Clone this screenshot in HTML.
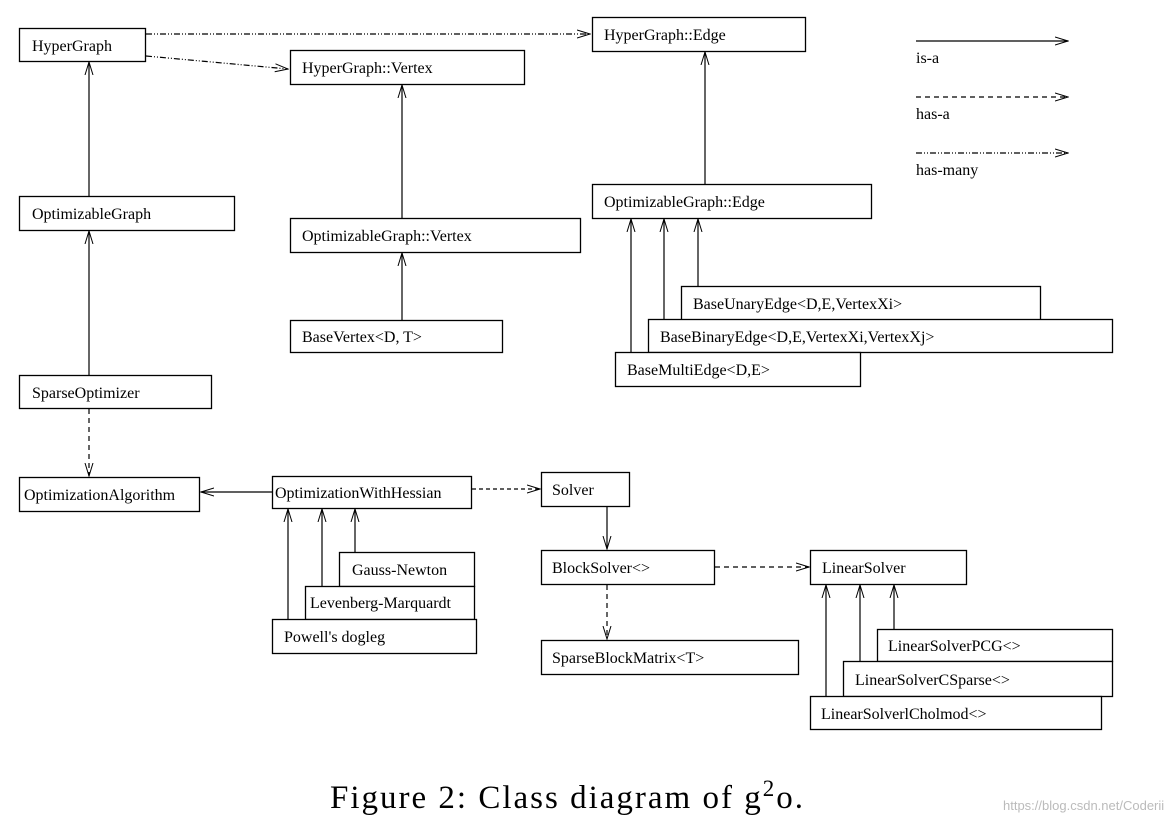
<!DOCTYPE html>
<html><head><meta charset="utf-8"><style>
html,body{margin:0;padding:0;background:#fff;}
svg{display:block;}
text{font-family:"Liberation Serif",serif;font-size:16px;fill:#000;}
</style></head><body>
<svg width="1174" height="826" viewBox="0 0 1174 826" xmlns="http://www.w3.org/2000/svg">
<defs>
<marker id="a" markerWidth="14" markerHeight="10" refX="13" refY="5" orient="auto" markerUnits="userSpaceOnUse">
<path d="M0,1 L13,5 L0,9" fill="none" stroke="#000" stroke-width="1"/>
</marker>
</defs>
<g fill="#fff" stroke="#000" stroke-width="1.3">
<rect x="19.5" y="28.5" width="126" height="33"/>
<rect x="592.5" y="17.5" width="213" height="34"/>
<rect x="290.5" y="50.5" width="234" height="34"/>
<rect x="19.5" y="196.5" width="215" height="34"/>
<rect x="290.5" y="218.5" width="290" height="34"/>
<rect x="592.5" y="184.5" width="279" height="34"/>
<rect x="290.5" y="320.5" width="212" height="32"/>
<rect x="681.5" y="286.5" width="359" height="34"/>
<rect x="648.5" y="319.5" width="464" height="33"/>
<rect x="615.5" y="352.5" width="245" height="34"/>
<rect x="19.5" y="375.5" width="192" height="33"/>
<rect x="19.5" y="477.5" width="180" height="34"/>
<rect x="272.5" y="476.5" width="199" height="32"/>
<rect x="541.5" y="472.5" width="88" height="34"/>
<rect x="541.5" y="550.5" width="173" height="34"/>
<rect x="541.5" y="640.5" width="257" height="34"/>
<rect x="810.5" y="550.5" width="156" height="34"/>
<rect x="339.5" y="552.5" width="135" height="34"/>
<rect x="305.5" y="586.5" width="169" height="33"/>
<rect x="272.5" y="619.5" width="204" height="34"/>
<rect x="877.5" y="629.5" width="235" height="32"/>
<rect x="843.5" y="661.5" width="269" height="35"/>
<rect x="810.5" y="696.5" width="291" height="33"/>
</g>
<g fill="none" stroke="#000" stroke-width="1.2">
<path d="M146,34 L590,34" stroke-dasharray="6,2,1,2,1,2" marker-end="url(#a)"/>
<path d="M146,56 L288,69" stroke-dasharray="6,2,1,2,1,2" marker-end="url(#a)"/>
<path d="M89,196 L89,62" marker-end="url(#a)"/>
<path d="M89,375 L89,231" marker-end="url(#a)"/>
<path d="M89,409 L89,476" stroke-dasharray="5,4" marker-end="url(#a)"/>
<path d="M402,218 L402,85" marker-end="url(#a)"/>
<path d="M402,320 L402,253" marker-end="url(#a)"/>
<path d="M705,184 L705,52" marker-end="url(#a)"/>
<path d="M631,352 L631,219" marker-end="url(#a)"/>
<path d="M664,319 L664,219" marker-end="url(#a)"/>
<path d="M698,286 L698,219" marker-end="url(#a)"/>
<path d="M272,492 L201,492" marker-end="url(#a)"/>
<path d="M472,489 L540,489" stroke-dasharray="4,3" marker-end="url(#a)"/>
<path d="M607,507 L607,549" marker-end="url(#a)"/>
<path d="M715,567 L809,567" stroke-dasharray="5,4" marker-end="url(#a)"/>
<path d="M607,585 L607,639" stroke-dasharray="5,4" marker-end="url(#a)"/>
<path d="M288,619 L288,509" marker-end="url(#a)"/>
<path d="M322,586 L322,509" marker-end="url(#a)"/>
<path d="M355,552 L355,509" marker-end="url(#a)"/>
<path d="M826,696 L826,585" marker-end="url(#a)"/>
<path d="M860,661 L860,585" marker-end="url(#a)"/>
<path d="M894,629 L894,585" marker-end="url(#a)"/>
<path d="M916,41 L1068,41" marker-end="url(#a)"/>
<path d="M916,97 L1068,97" stroke-dasharray="5,4" marker-end="url(#a)"/>
<path d="M916,153 L1068,153" stroke-dasharray="6,2,1,2,1,2" marker-end="url(#a)"/>
</g>
<text x="32" y="51">HyperGraph</text>
<text x="604" y="40">HyperGraph::Edge</text>
<text x="302" y="73">HyperGraph::Vertex</text>
<text x="32" y="219">OptimizableGraph</text>
<text x="302" y="241">OptimizableGraph::Vertex</text>
<text x="604" y="207">OptimizableGraph::Edge</text>
<text x="302" y="342">BaseVertex&lt;D, T&gt;</text>
<text x="693" y="309">BaseUnaryEdge&lt;D,E,VertexXi&gt;</text>
<text x="660" y="342">BaseBinaryEdge&lt;D,E,VertexXi,VertexXj&gt;</text>
<text x="627" y="375">BaseMultiEdge&lt;D,E&gt;</text>
<text x="32" y="398">SparseOptimizer</text>
<text x="24" y="500">OptimizationAlgorithm</text>
<text x="275" y="498">OptimizationWithHessian</text>
<text x="552" y="495">Solver</text>
<text x="552" y="573">BlockSolver&lt;&gt;</text>
<text x="552" y="663">SparseBlockMatrix&lt;T&gt;</text>
<text x="822" y="573">LinearSolver</text>
<text x="352" y="575">Gauss-Newton</text>
<text x="310" y="608">Levenberg-Marquardt</text>
<text x="284" y="642">Powell's dogleg</text>
<text x="888" y="651">LinearSolverPCG&lt;&gt;</text>
<text x="855" y="685">LinearSolverCSparse&lt;&gt;</text>
<text x="821" y="719">LinearSolverlCholmod&lt;&gt;</text>
<text x="916" y="63">is-a</text>
<text x="916" y="119">has-a</text>
<text x="916" y="175">has-many</text>
<text x="330" y="808" style="font-size:33px;letter-spacing:2px">Figure 2: Class diagram of g<tspan dy="-12" style="font-size:23px">2</tspan><tspan dy="12">o.</tspan></text>
<text x="1003" y="810" style="font-size:13px;fill:#bbb;font-family:'Liberation Sans',sans-serif">https://blog.csdn.net/Coderii</text>
</svg>
</body></html>
